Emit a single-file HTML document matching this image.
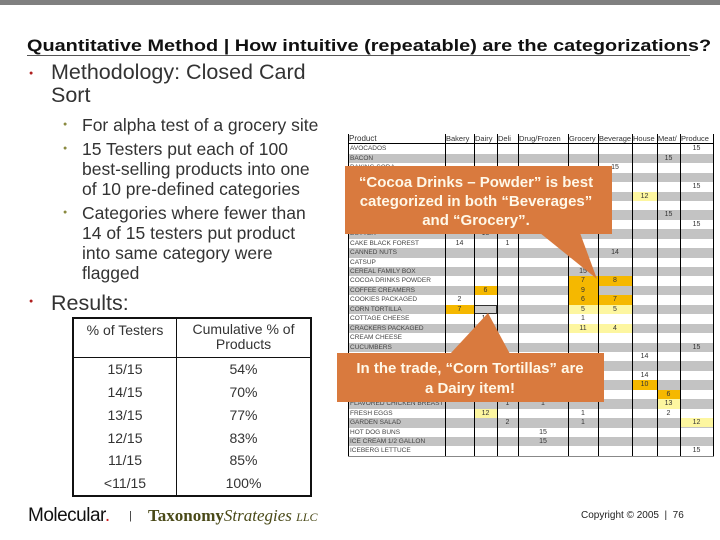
<!DOCTYPE html>
<html><head><meta charset="utf-8">
<style>
body{margin:0;width:720px;height:540px;overflow:hidden;background:#fff;font-family:"Liberation Sans",sans-serif;color:#222;position:relative}
.abs{position:absolute;white-space:nowrap}
#grid div{position:absolute;box-sizing:border-box}
</style></head><body>
<div class="abs" style="left:0;top:0;width:720px;height:5px;background:#808080"></div>
<div class="abs" style="left:27px;top:36px;font-size:17px;font-weight:bold;transform:scaleX(1.17);transform-origin:0 0;color:#111">Quantitative Method | How intuitive (repeatable) are the categorizations?</div>
<div class="abs" style="left:27px;top:55px;width:663px;height:1px;background:#555"></div>

<div class="abs" style="left:51px;top:61px;font-size:21.5px;line-height:23px;color:#333">Methodology: Closed Card<br>Sort</div>
<div class="abs" style="left:82px;top:115px;font-size:17.5px;line-height:20px;color:#333">
For alpha test of a grocery site<br>
<div style="height:4px"></div>15 Testers put each of 100<br>best-selling products into one<br>of 10 pre-defined categories<br>
<div style="height:4px"></div>Categories where fewer than<br>14 of 15 testers put product<br>into same category were<br>flagged</div>
<div class="abs" style="left:63px;top:121px;font-size:7px;color:#8a8a40">●</div>
<div class="abs" style="left:63px;top:145px;font-size:7px;color:#8a8a40">●</div>
<div class="abs" style="left:63px;top:209px;font-size:7px;color:#8a8a40">●</div>
<div class="abs" style="left:29px;top:298px;font-size:7px;color:#b02020">●</div>
<div class="abs" style="left:29px;top:70px;font-size:7px;color:#b02020">●</div>
<div class="abs" style="left:51px;top:291px;font-size:21.5px;color:#333">Results:</div>

<table style="position:absolute;left:72px;top:317px;width:240px;height:180px;border-collapse:collapse;border:2px solid #111;font-size:14px;color:#333;text-align:center">
<tr style="height:39px"><td style="border:1px solid #111;vertical-align:top;padding-top:3px;width:100px">% of Testers</td><td style="border:1px solid #111;vertical-align:top;padding-top:3px;line-height:15px">Cumulative % of<br>Products</td></tr>
<tr><td style="border-right:1px solid #111">15/15</td><td>54%</td></tr>
<tr><td style="border-right:1px solid #111">14/15</td><td>70%</td></tr>
<tr><td style="border-right:1px solid #111">13/15</td><td>77%</td></tr>
<tr><td style="border-right:1px solid #111">12/15</td><td>83%</td></tr>
<tr><td style="border-right:1px solid #111">11/15</td><td>85%</td></tr>
<tr><td style="border-right:1px solid #111">&lt;11/15</td><td>100%</td></tr>
</table>

<div id="grid" style="position:absolute;left:0;top:0"></div>

<svg class="abs" style="left:0;top:0" width="720" height="540">
<polygon points="540,233 580,233 597,279" fill="#d97a3e"/>
<rect x="345" y="166" width="267" height="68" fill="#d97a3e"/>
<text x="476" y="187" font-size="15" font-weight="bold" fill="#fff8e8" text-anchor="middle" font-family="Liberation Sans">“Cocoa Drinks – Powder” is best</text>
<text x="476" y="206" font-size="15" font-weight="bold" fill="#fff8e8" text-anchor="middle" font-family="Liberation Sans">categorized in both “Beverages”</text>
<text x="476" y="225" font-size="15" font-weight="bold" fill="#fff8e8" text-anchor="middle" font-family="Liberation Sans">and “Grocery”.</text>
<polygon points="450,354 510,354 488,313" fill="#d97a3e"/>
<rect x="337" y="353" width="267" height="49" fill="#d97a3e"/>
<text x="470" y="373" font-size="15" font-weight="bold" fill="#fff8e8" text-anchor="middle" font-family="Liberation Sans">In the trade, “Corn Tortillas” are</text>
<text x="470" y="393" font-size="15" font-weight="bold" fill="#fff8e8" text-anchor="middle" font-family="Liberation Sans">a Dairy item!</text>
</svg>

<div class="abs" style="left:28px;top:505px;font-size:19px;color:#111;letter-spacing:-0.5px">Molecular<span style="color:#d02020">.</span></div>
<div class="abs" style="left:129px;top:510px;font-size:11px;color:#333">|</div>
<div class="abs" style="left:148px;top:506px;font-size:17px;font-family:'Liberation Serif',serif;color:#4a4a18"><b>Taxonomy</b><i>Strategies</i> <span style="font-size:12px;font-style:italic">LLC</span></div>
<div class="abs" style="left:581px;top:510px;font-size:10px;color:#222">Copyright © 2005 &nbsp;| &nbsp;76</div>

<script>
const categories=["Bakery","Dairy","Deli","Drug/Frozen","Grocery","Beverage","House","Meat/","Produce"];
const products=["AVOCADOS","BACON","BAKING SODA","BANANAS","BATTERIES","BLEACH","BEEF","BREAD","BROCCOLI","BUTTER","CAKE BLACK FOREST","CANNED NUTS","CATSUP","CEREAL FAMILY BOX","COCOA DRINKS POWDER","COFFEE CREAMERS","COOKIES PACKAGED","CORN TORTILLA","COTTAGE CHEESE","CRACKERS PACKAGED","CREAM CHEESE","CUCUMBERS","DETERGENT","DISH SOAP","FABRIC SOFTENER","FOIL WRAP","FISH FILLET","FLAVORED CHICKEN BREAST","FRESH EGGS","GARDEN SALAD","HOT DOG BUNS","ICE CREAM 1/2 GALLON","ICEBERG LETTUCE"];
// [row, col, value, style] style: 0 plain, 1 orange, 2 light yellow
const cells=[[0,8,15,0],[1,7,15,0],[2,5,15,0],[4,8,15,0],[5,6,12,2],[7,7,15,0],[8,8,15,0],[9,1,15,0],[10,0,14,0],[10,2,1,0],[11,4,1,0],[11,5,14,0],[13,4,15,0],[14,4,7,1],[14,5,8,1],[15,1,6,1],[15,4,9,1],[16,0,2,0],[16,4,6,1],[16,5,7,1],[17,0,7,1],[17,4,5,2],[17,5,5,2],[18,1,14,0],[18,4,1,0],[19,4,11,2],[19,5,4,2],[20,1,15,0],[21,8,15,0],[22,6,14,0],[24,6,14,0],[25,6,10,1],[26,7,6,1],[27,2,1,0],[27,3,1,0],[27,7,13,2],[28,1,12,2],[28,4,1,0],[28,7,2,0],[29,2,2,0],[29,4,1,0],[29,8,12,2],[30,3,15,0],[31,3,15,0],[32,8,15,0]];
const colX=[445,474,497,518,568,598,632,657,680,713];
const X0=348,HTOP=134,RTOP=144.3,RH=9.44;
const g=document.getElementById('grid');
function mk(l,t,w,h,css,txt){const d=document.createElement('div');d.style.cssText=`left:${l}px;top:${t}px;width:${w}px;height:${h}px;${css}`;if(txt!==undefined)d.textContent=txt;g.appendChild(d);return d;}
const rowY=i=>RTOP+i*RH;
let e=mk(X0,HTOP,365,10.3,'background:#fff;border-bottom:1px solid #000');


e=mk(X0+1,HTOP,95,10,'font-size:8px;line-height:10px;color:#333','Product');


categories.forEach((c,j)=>{const el=mk(colX[j],HTOP,colX[j+1]-colX[j],10,'font-size:7.5px;line-height:10px;color:#333;overflow:hidden;padding-left:1px',c);

});
products.forEach((p,i)=>{const r=mk(X0,rowY(i),365,RH+0.3,'background:'+(i%2?'#c3c3c3':'#fff'));


const t=mk(X0+2,rowY(i),95,RH,'font-size:6.5px;line-height:9.4px;color:#444;overflow:hidden',p);

});
cells.forEach(([r,c,v,s])=>{const bg=s==1?'#f5b800':s==2?'#fdf6a0':'transparent';
const el=mk(colX[c],rowY(r),colX[c+1]-colX[c],RH,'background:'+bg+';font-size:7px;line-height:9.4px;text-align:center;color:#333',String(v));

});
const ce=mk(colX[1],rowY(17),colX[2]-colX[1],RH,'border:1.5px solid #333;background:#ccc');


[X0].concat(colX).forEach(x=>{const l=mk(x,HTOP,1,rowY(products.length)-HTOP,'background:#000');

});
const b=mk(X0,rowY(products.length),366,1,'background:#888');


</script>
</body></html>
